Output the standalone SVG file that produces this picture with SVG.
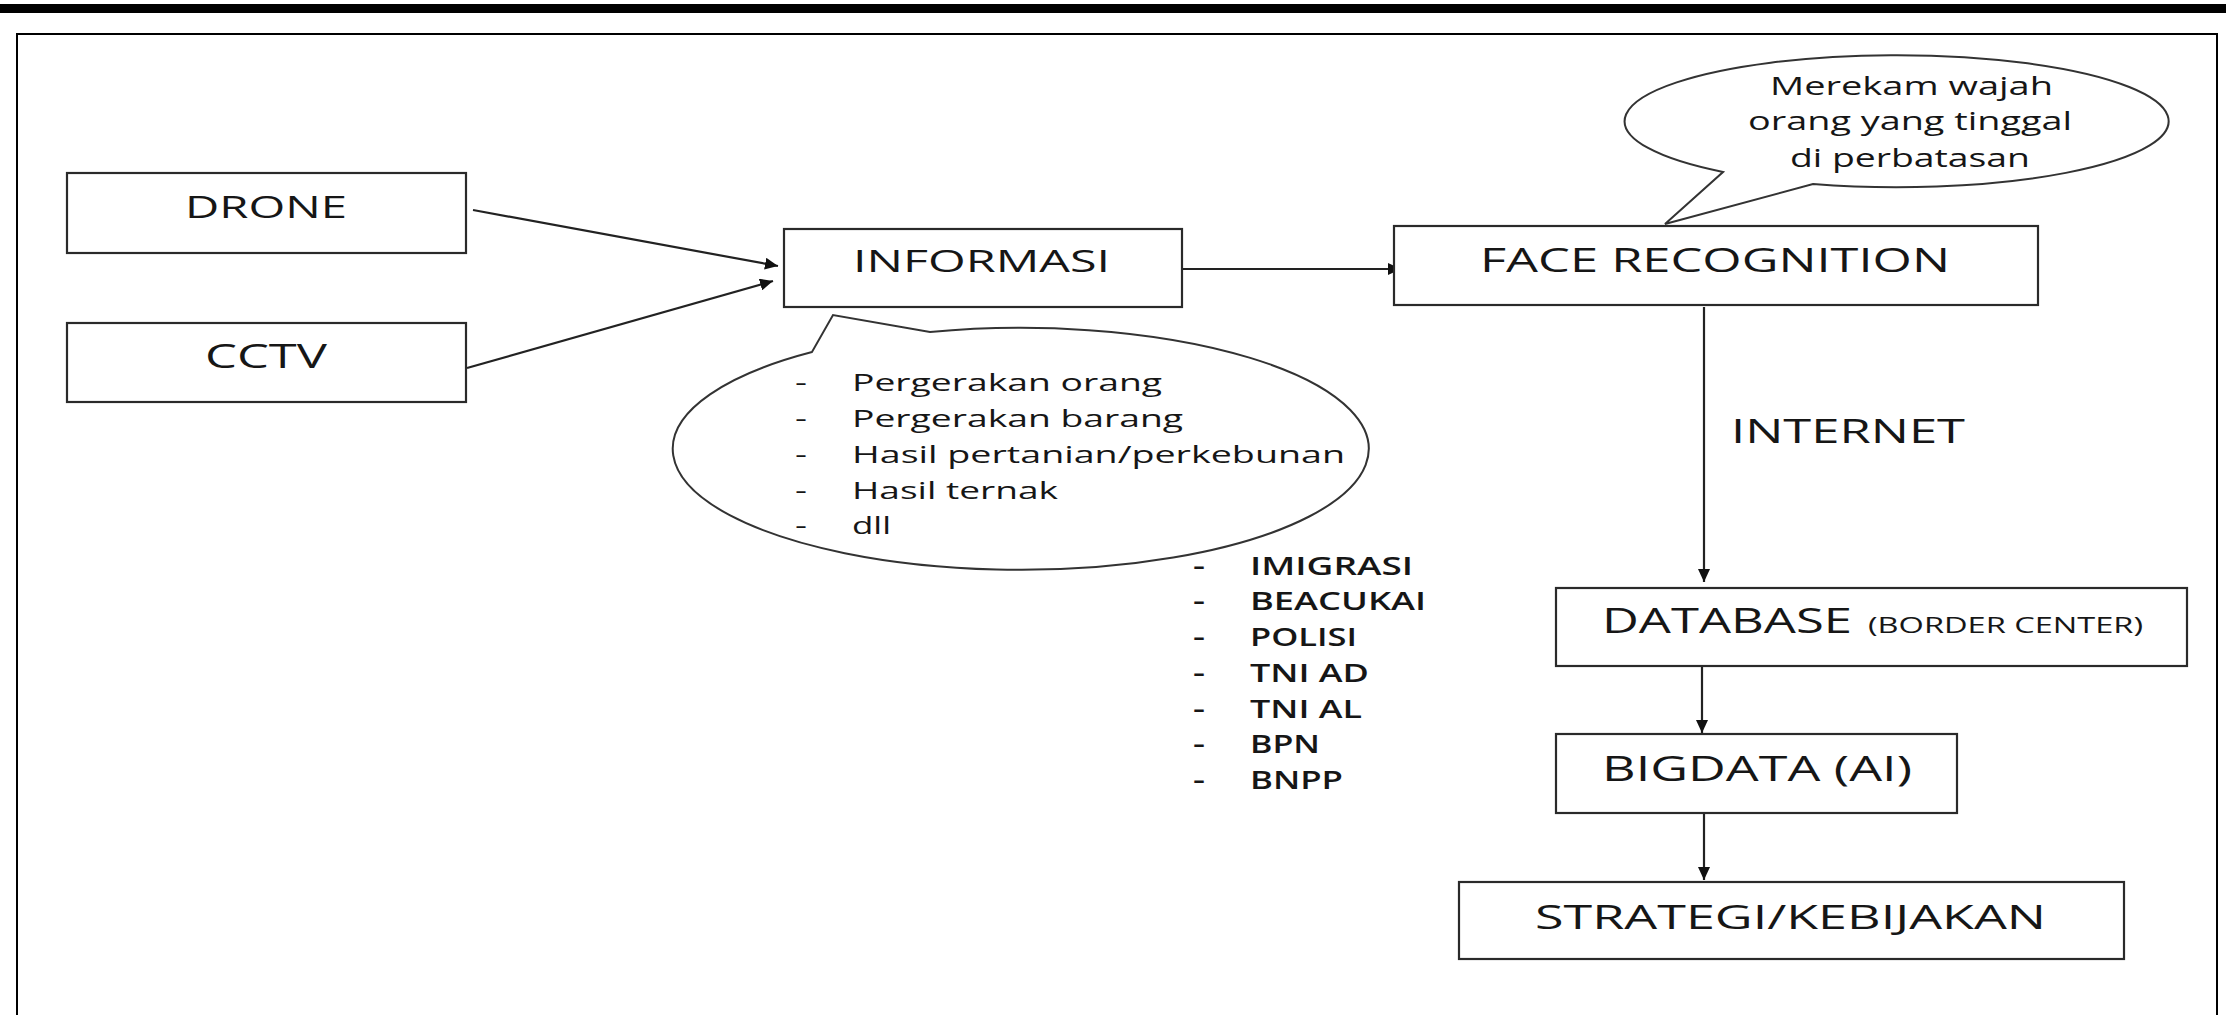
<svg xmlns="http://www.w3.org/2000/svg" width="2226" height="1015" viewBox="0 0 2226 1015">
<style>
.box{fill:#fff;stroke:#2a2a2a;stroke-width:2.2}
.bub{fill:#fff;stroke:#333;stroke-width:2}
.t{font-family:"Open Sans","Liberation Sans",sans-serif;fill:#161616}
.c{stroke:#222;stroke-width:2.2;fill:none}
</style>
<defs>
<marker id="ah" markerUnits="userSpaceOnUse" markerWidth="14" markerHeight="12" refX="13" refY="6" orient="auto">
<path d="M0,0 L13,6 L0,12 z" fill="#111"/>
</marker>
</defs>
<rect x="0" y="4" width="2226" height="9" fill="#000"/>
<path d="M17,1030 V34 H2217 V1030" fill="none" stroke="#000" stroke-width="2"/>

<g id="connectors">
<line class="c" x1="473" y1="210" x2="778" y2="266" marker-end="url(#ah)"/>
<line class="c" x1="467" y1="368" x2="773" y2="281" marker-end="url(#ah)"/>
<line class="c" x1="1182" y1="269" x2="1401" y2="269" marker-end="url(#ah)"/>
<line class="c" x1="1704" y1="307" x2="1704" y2="582" stroke="#444" marker-end="url(#ah)"/>
<line class="c" x1="1702" y1="667" x2="1702" y2="733" marker-end="url(#ah)"/>
<line class="c" x1="1704" y1="814" x2="1704" y2="880" marker-end="url(#ah)"/>
</g>

<g id="drone">
<rect class="box" x="67" y="173" width="399" height="80"/>
<text class="t" x="185" y="218" font-size="31" textLength="162" lengthAdjust="spacingAndGlyphs">DRONE</text>
</g>
<g id="cctv">
<rect class="box" x="67" y="323" width="399" height="79"/>
<text class="t" x="205" y="368" font-size="32" textLength="122" lengthAdjust="spacingAndGlyphs">CCTV</text>
</g>
<g id="informasi">
<rect class="box" x="784" y="229" width="398" height="78"/>
<text class="t" x="853" y="272" font-size="31" textLength="257" lengthAdjust="spacingAndGlyphs">INFORMASI</text>
</g>
<g id="info-callout">
<path class="bub" d="M930,332 A348,121 0 1 1 812,352 L833,315 Z"/>
<g class="t" font-size="24">
<text x="795" y="391" textLength="12" lengthAdjust="spacingAndGlyphs">-</text>
<text x="852" y="391" textLength="310" lengthAdjust="spacingAndGlyphs">Pergerakan orang</text>
<text x="795" y="427" textLength="12" lengthAdjust="spacingAndGlyphs">-</text>
<text x="852" y="427" textLength="331" lengthAdjust="spacingAndGlyphs">Pergerakan barang</text>
<text x="795" y="463" textLength="12" lengthAdjust="spacingAndGlyphs">-</text>
<text x="852" y="463" textLength="493" lengthAdjust="spacingAndGlyphs">Hasil pertanian/perkebunan</text>
<text x="795" y="499" textLength="12" lengthAdjust="spacingAndGlyphs">-</text>
<text x="852" y="499" textLength="206" lengthAdjust="spacingAndGlyphs">Hasil ternak</text>
<text x="795" y="534" textLength="12" lengthAdjust="spacingAndGlyphs">-</text>
<text x="852" y="534" textLength="39" lengthAdjust="spacingAndGlyphs">dll</text>
</g>
</g>
<g id="face-recognition">
<rect class="box" x="1394" y="226" width="644" height="79"/>
<text class="t" x="1480" y="272" font-size="33.6" textLength="470" lengthAdjust="spacingAndGlyphs">FACE RECOGNITION</text>
</g>
<g id="face-callout">
<path class="bub" d="M1813,184 A272,66 0 1 0 1723,172 L1665,224 Z"/>
<g class="t" font-size="25">
<text x="1770" y="95" textLength="283" lengthAdjust="spacingAndGlyphs">Merekam wajah</text>
<text x="1748" y="130" textLength="324" lengthAdjust="spacingAndGlyphs">orang yang tinggal</text>
<text x="1790" y="167" textLength="240" lengthAdjust="spacingAndGlyphs">di perbatasan</text>
</g>
</g>
<g id="internet-label">
<text class="t" x="1731" y="443" font-size="32" textLength="234" lengthAdjust="spacingAndGlyphs">INTERNET</text>
</g>
<g id="agencies" class="t" font-size="25" font-weight="600">
<text x="1193" y="575" textLength="12" lengthAdjust="spacingAndGlyphs">-</text>
<text x="1250" y="575" textLength="163" lengthAdjust="spacingAndGlyphs">IMIGRASI</text>
<text x="1193" y="610" textLength="12" lengthAdjust="spacingAndGlyphs">-</text>
<text x="1250" y="610" textLength="176" lengthAdjust="spacingAndGlyphs">BEACUKAI</text>
<text x="1193" y="646" textLength="12" lengthAdjust="spacingAndGlyphs">-</text>
<text x="1250" y="646" textLength="107" lengthAdjust="spacingAndGlyphs">POLISI</text>
<text x="1193" y="682" textLength="12" lengthAdjust="spacingAndGlyphs">-</text>
<text x="1250" y="682" textLength="119" lengthAdjust="spacingAndGlyphs">TNI AD</text>
<text x="1193" y="718" textLength="12" lengthAdjust="spacingAndGlyphs">-</text>
<text x="1250" y="718" textLength="112" lengthAdjust="spacingAndGlyphs">TNI AL</text>
<text x="1193" y="753" textLength="12" lengthAdjust="spacingAndGlyphs">-</text>
<text x="1250" y="753" textLength="70" lengthAdjust="spacingAndGlyphs">BPN</text>
<text x="1193" y="789" textLength="12" lengthAdjust="spacingAndGlyphs">-</text>
<text x="1250" y="789" textLength="93" lengthAdjust="spacingAndGlyphs">BNPP</text>
</g>
<g id="database">
<rect class="box" x="1556" y="588" width="631" height="78"/>
<text class="t" x="1602" y="633" font-size="35" textLength="250" lengthAdjust="spacingAndGlyphs">DATABASE</text>
<text class="t" x="1868" y="633" font-size="21" textLength="275" lengthAdjust="spacingAndGlyphs">(BORDER CENTER)</text>
</g>
<g id="bigdata">
<rect class="box" x="1556" y="734" width="401" height="79"/>
<text class="t" x="1602" y="781" font-size="35" textLength="310" lengthAdjust="spacingAndGlyphs">BIGDATA (AI)</text>
</g>
<g id="strategi">
<rect class="box" x="1459" y="882" width="665" height="77"/>
<text class="t" x="1535" y="929" font-size="33.6" textLength="511" lengthAdjust="spacingAndGlyphs">STRATEGI/KEBIJAKAN</text>
</g>
</svg>
